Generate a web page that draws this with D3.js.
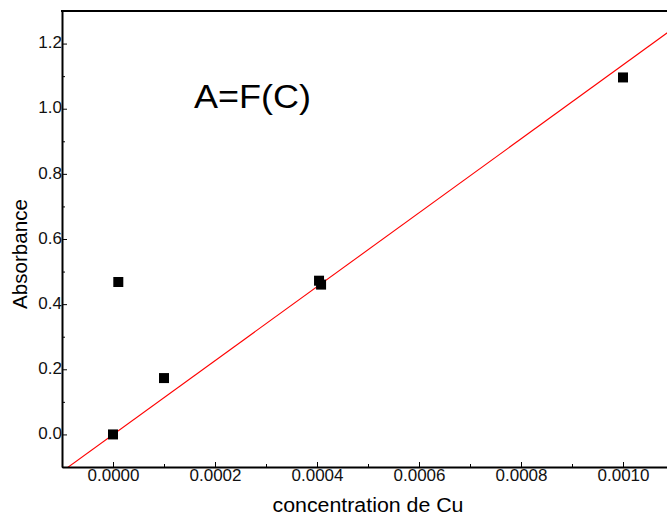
<!DOCTYPE html>
<html>
<head>
<meta charset="utf-8">
<script src="https://cdn.jsdelivr.net/npm/d3@7/dist/d3.min.js"></script>
<style>
  html, body { margin: 0; padding: 0; background: #fff; }
  svg { display: block; font-family: "Liberation Sans", Arial, sans-serif; }
</style>
</head>
<body>
<svg id="chart" width="667" height="516"></svg>
<script>
// Measured concentrations of Cu and their absorbance
const concentration = [0, 0.0000104, 0.0001, 0.000404, 0.000408, 0.001];
const absorbance    = [0, 0.468, 0.173, 0.472, 0.460, 1.096];

// Linear calibration fit A = intercept + slope * C
const fitSlope = 1135;
const fitIntercept = -0.0006;

// Axis ticks
const xMajorTicks = [0, 0.0002, 0.0004, 0.0006, 0.0008, 0.0010];
const xMinorTicks = [-0.0001, 0.0001, 0.0003, 0.0005, 0.0007, 0.0009, 0.0011];
const yMajorTicks = [0, 0.2, 0.4, 0.6, 0.8, 1.0, 1.2];
const yMinorTicks = [-0.1, 0.1, 0.3, 0.5, 0.7, 0.9, 1.1, 1.3];

const titleText = "A=F(C)";
const xTitle = "concentration de Cu";
const yTitle = "Absorbance";

(function () {
  const svg = d3.select("#chart");
  const plotLeft = 62, plotRight = 674, plotTop = 11, plotBottom = 467;

  const x = d3.scaleLinear().domain([-0.0001, 0.0011]).range([plotLeft, plotRight]);
  const y = d3.scaleLinear().domain([-0.1, 1.3]).range([plotBottom, plotTop]);

  // clip region for the plot
  svg.append("defs").append("clipPath").attr("id", "plotClip")
    .append("rect").attr("x", plotLeft).attr("y", plotTop)
    .attr("width", plotRight - plotLeft).attr("height", plotBottom - plotTop);

  // fit line
  const xd = x.domain();
  svg.append("line")
    .attr("clip-path", "url(#plotClip)")
    .attr("x1", x(xd[0])).attr("y1", y(fitIntercept + fitSlope * xd[0]))
    .attr("x2", x(xd[1])).attr("y2", y(fitIntercept + fitSlope * xd[1]))
    .attr("stroke", "#ff0000").attr("stroke-width", 1.1);

  // data markers
  const pts = concentration.map((c, i) => ({ c, a: absorbance[i] }));
  const size = 10;
  svg.append("g").selectAll("rect").data(pts).join("rect")
    .attr("x", d => x(d.c) - size / 2)
    .attr("y", d => y(d.a) - size / 2)
    .attr("width", size).attr("height", size)
    .attr("fill", "#000");

  // minor ticks
  svg.append("g").attr("transform", `translate(0,${plotBottom})`)
    .call(d3.axisBottom(x).tickValues(xMinorTicks).tickSize(-3).tickFormat(""))
    .call(g => g.select(".domain").remove())
    .call(g => g.selectAll("line").attr("stroke", "#000"));
  svg.append("g").attr("transform", `translate(${plotLeft},0)`)
    .call(d3.axisLeft(y).tickValues(yMinorTicks).tickSize(-3).tickFormat(""))
    .call(g => g.select(".domain").remove())
    .call(g => g.selectAll("line").attr("stroke", "#000"));

  // major axes
  const xAxis = svg.append("g").attr("transform", `translate(0,${plotBottom})`)
    .call(d3.axisBottom(x).tickValues(xMajorTicks).tickSize(-5).tickSizeOuter(0)
      .tickPadding(2).tickFormat(d3.format(".4f")));
  xAxis.select(".domain").attr("stroke", "#000").attr("stroke-width", 2);
  xAxis.selectAll("line").attr("stroke", "#000");
  xAxis.selectAll("text").attr("font-size", 17).attr("fill", "#111")
    .attr("font-family", "Liberation Sans, Arial, sans-serif");

  const yAxis = svg.append("g").attr("transform", `translate(${plotLeft},0)`)
    .call(d3.axisLeft(y).tickValues(yMajorTicks).tickSize(-5).tickSizeOuter(0)
      .tickPadding(0).tickFormat(d3.format(".1f")));
  yAxis.select(".domain").attr("stroke", "#000").attr("stroke-width", 2);
  yAxis.selectAll("line").attr("stroke", "#000");
  yAxis.selectAll("text").attr("font-size", 17).attr("fill", "#111").attr("dy", "0.25em")
    .attr("font-family", "Liberation Sans, Arial, sans-serif");

  // top frame line
  svg.append("line")
    .attr("x1", plotLeft - 1).attr("x2", plotRight).attr("y1", plotTop).attr("y2", plotTop)
    .attr("stroke", "#000").attr("stroke-width", 2);

  // titles
  svg.append("text").attr("x", 194).attr("y", 108)
    .attr("font-size", 34).attr("fill", "#000")
    .attr("textLength", 117).attr("lengthAdjust", "spacingAndGlyphs")
    .text(titleText);

  svg.append("text").attr("x", 368).attr("y", 512)
    .attr("text-anchor", "middle").attr("font-size", 20).attr("fill", "#000")
    .attr("textLength", 191).attr("lengthAdjust", "spacingAndGlyphs")
    .text(xTitle);

  svg.append("text")
    .attr("transform", "translate(27,254) rotate(-90)")
    .attr("text-anchor", "middle").attr("font-size", 20).attr("fill", "#000")
    .attr("textLength", 110).attr("lengthAdjust", "spacingAndGlyphs")
    .text(yTitle);
})();
</script>
</body>
</html>
